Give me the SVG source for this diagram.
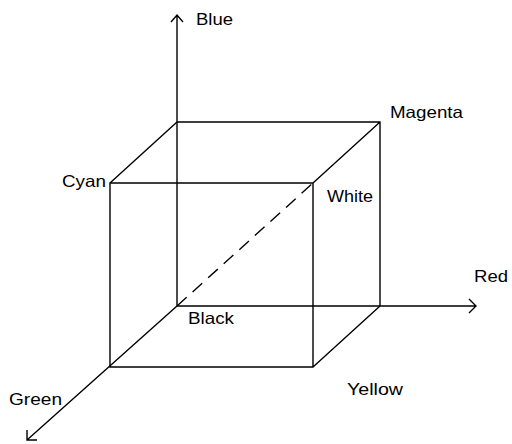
<svg xmlns="http://www.w3.org/2000/svg" width="512" height="444" viewBox="0 0 512 444">
<style>
.l{stroke:#000;stroke-width:1.4;fill:none}
.d{stroke:#000;stroke-width:1.4;fill:none;stroke-dasharray:13,8}
text{font-family:"Liberation Sans",Arial,sans-serif;font-size:16.5px;fill:#000}
</style>
<rect width="512" height="444" fill="#fff"/>
<g id="connectors">
<path class="l" d="M177,306 V15 M171,22 L177,15 L183,22"/>
<path class="l" d="M177,306 H476 M469,299 L476,306 L469,313"/>
<path class="l" d="M177,306 L27,440 M27,430 L27,440 L37,440"/>
<path class="l" d="M177,122 H380 V306 M110,183 H313 V367 H110 Z M110,183 L177,122 M313,183 L380,122 M313,367 L380,306"/>
<path class="d" d="M177,306 L313,183"/>
</g>
<g id="blue"><text x="196" y="25" textLength="37" lengthAdjust="spacingAndGlyphs">Blue</text></g>
<g id="magenta"><text x="390" y="118" textLength="73" lengthAdjust="spacingAndGlyphs">Magenta</text></g>
<g id="cyan"><text x="62" y="187" textLength="44" lengthAdjust="spacingAndGlyphs">Cyan</text></g>
<g id="white"><text x="327" y="202" textLength="46" lengthAdjust="spacingAndGlyphs">White</text></g>
<g id="red"><text x="474" y="282" textLength="34" lengthAdjust="spacingAndGlyphs">Red</text></g>
<g id="black"><text x="188" y="324" textLength="46" lengthAdjust="spacingAndGlyphs">Black</text></g>
<g id="green"><text x="9" y="405" textLength="53" lengthAdjust="spacingAndGlyphs">Green</text></g>
<g id="yellow"><text x="347" y="395" textLength="56" lengthAdjust="spacingAndGlyphs">Yellow</text></g>
</svg>
